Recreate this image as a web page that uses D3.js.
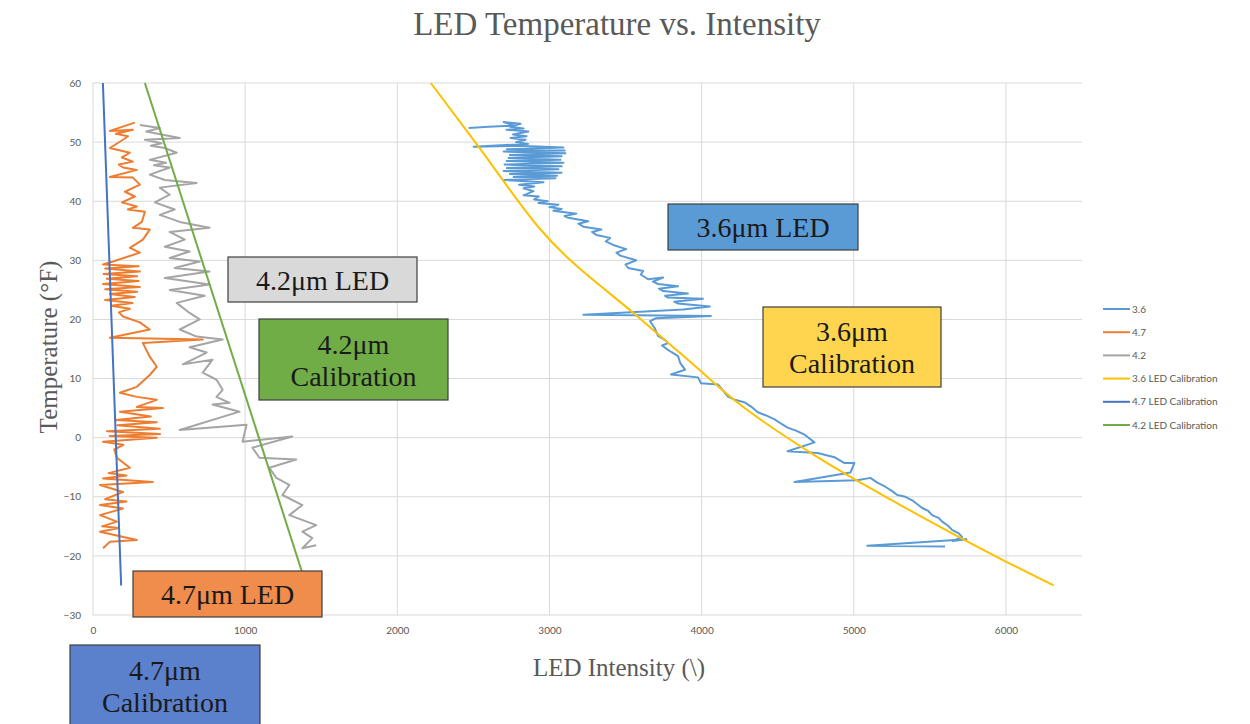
<!DOCTYPE html>
<html><head><meta charset="utf-8">
<script src="https://cdn.jsdelivr.net/npm/d3@7"></script>
<style>
html,body{margin:0;padding:0;background:#fff;}
svg{display:block;}
</style></head>
<body>
<svg id="chart" width="1250" height="724"></svg>
<script>
// ---------- DATA ----------
const xTicks = [0, 1000, 2000, 3000, 4000, 5000, 6000];
const yTicks = [-30, -20, -10, 0, 10, 20, 30, 40, 50, 60];
const seriesNames = ["3.6", "4.7", "4.2", "3.6 LED Calibration", "4.7 LED Calibration", "4.2 LED Calibration"];
const seriesColors = ["#5B9BD5", "#ED7D31", "#A5A5A5", "#FFC000", "#4472C4", "#70AD47"];

// [intensity, temperature]
const series36 = [
 [2469,52.4],[2600,52.6],[2764,52.8],[2699,53.4],[2810,53.1],[2740,52.6],[2830,52.3],[2718,52.1],
 [2862,51.8],[2760,51.3],[2850,51.0],[2744,50.7],[2843,50.4],[2780,50.0],[2860,49.7],
 [2502,49.2],[2797,49.4],[3092,49.1],[2720,48.8],[3100,48.6],[2699,48.4],[3105,48.1],[2740,47.8],
 [3080,47.6],[2731,47.3],[3072,47.0],[2718,46.8],[3092,46.5],[2705,46.2],[3080,45.9],[2720,45.6],
 [3059,45.4],[2699,45.1],[3079,44.8],[2740,44.6],[3050,44.3],[2764,44.1],[3039,43.9],[2699,43.6],
 [2961,43.2],[2800,42.8],[2900,42.5],[2830,42.2],[2895,41.7],[2830,41.0],[2930,40.8],[2900,40.3],
 [2990,40.0],[2928,39.7],[3059,39.4],[3000,39.0],[3080,38.7],[3026,38.4],[3177,37.9],[3100,37.5],
 [3124,37.2],[3255,36.6],[3190,36.2],[3223,35.7],[3341,35.2],[3280,34.8],[3308,34.3],[3399,33.8],
 [3370,33.2],[3419,32.6],[3504,31.9],[3440,31.3],[3465,30.8],[3570,30.0],[3500,29.3],[3517,28.7],
 [3616,28.2],[3600,27.6],[3648,26.8],[3747,27.1],[3680,26.4],[3714,26.0],[3845,25.6],[3720,25.2],
 [3747,24.8],[3910,24.4],[3760,24.0],[3779,23.7],[4009,23.5],[3820,23.0],[3845,22.7],[4054,22.2],
 [3878,21.7],[3223,20.8],[4061,20.6],[3700,20.2],[3661,19.7],[3690,18.6],[3714,17.2],[3760,16.5],
 [3779,16.0],[3740,15.6],[3760,15.2],[3800,14.5],[3845,13.8],[3860,12.6],[3891,11.5],[3799,10.7],
 [3976,10.2],[3996,9.2],[4107,9.0],[4140,8.0],[4172,7.0],[4218,6.4],[4280,6.0],[4323,5.3],
 [4369,4.3],[4420,3.8],[4480,3.1],[4520,2.4],[4565,1.7],[4620,1.2],[4677,0.5],[4742,-0.8],
 [4565,-2.3],[4762,-2.6],[4873,-3.3],[4939,-4.3],[5004,-4.3],[4978,-5.9],[4611,-7.5],[5024,-7.2],
 [5109,-6.8],[5155,-7.6],[5207,-8.3],[5250,-9.0],[5286,-9.7],[5340,-10.0],[5384,-10.6],[5420,-11.3],
 [5450,-11.9],[5490,-12.4],[5515,-13.1],[5560,-13.6],[5581,-14.2],[5620,-14.9],[5646,-15.6],
 [5690,-16.2],[5712,-16.8],[5650,-17.5],[5740,-17.2],[5089,-18.3],[5600,-18.4]
];
const series47 = [
 [275,53.3],[111,51.9],[262,52.1],[150,51.4],[230,51.0],[197,50.4],[111,49.0],[242,48.2],
 [190,47.4],[262,46.7],[170,46.2],[197,45.7],[288,45.3],[111,44.1],[262,44.0],[308,42.8],
 [210,41.6],[275,40.8],[190,39.8],[288,39.1],[229,38.6],[341,38.2],[321,36.5],[262,35.5],
 [373,35.2],[328,33.5],[242,32.1],[308,31.3],[131,29.8],[66,29.3],[300,29.0],[80,28.6],
 [308,28.1],[70,27.7],[290,27.3],[90,26.9],[300,26.5],[66,26.0],[308,25.5],[80,25.1],
 [290,24.7],[111,24.3],[275,23.8],[79,23.3],[260,22.8],[120,22.3],[242,21.8],[170,21.2],
 [197,20.5],[308,19.5],[373,18.3],[111,16.9],[721,16.6],[328,16.0],[373,13.7],[419,12.0],
 [373,10.6],[288,8.6],[177,7.6],[288,6.9],[419,6.4],[288,5.2],[459,5.0],[177,4.4],
 [380,3.6],[150,3.0],[420,2.6],[160,2.1],[439,1.5],[92,1.1],[440,0.6],[110,0.3],[419,0.0],
 [66,-0.7],[200,-1.2],[140,-2.0],[157,-3.4],[242,-5.1],[103,-6.0],[220,-6.4],[66,-6.9],
 [393,-7.5],[46,-8.0],[197,-9.2],[80,-10.4],[220,-10.8],[46,-11.4],[197,-12.0],[46,-13.1],
 [157,-14.2],[60,-15.0],[170,-15.3],[46,-15.9],[288,-17.3],[111,-17.6],[66,-18.7]
];
const series42 = [
 [308,52.9],[439,52.4],[350,51.8],[570,50.7],[341,50.4],[450,49.8],[380,49.4],[472,49.0],
 [550,48.2],[373,47.0],[480,46.5],[400,46.1],[504,45.7],[373,44.5],[472,43.6],[681,43.1],
 [439,42.3],[504,41.1],[406,39.8],[537,38.6],[439,37.7],[570,36.5],[766,35.5],[504,34.8],
 [603,33.5],[472,32.3],[635,31.5],[504,30.4],[701,29.8],[537,28.7],[766,28.1],[472,27.0],
 [766,25.9],[504,25.0],[734,24.0],[550,22.8],[635,21.1],[701,20.0],[570,18.3],[681,17.1],
 [852,16.6],[635,15.3],[747,14.4],[590,12.4],[786,13.2],[721,11.0],[812,9.8],[852,8.1],
 [812,6.9],[897,5.9],[786,5.6],[963,4.4],[570,1.3],[1009,2.2],[983,-0.7],[1310,0.2],
 [1048,-1.7],[1094,-3.4],[1336,-3.7],[1159,-5.1],[1205,-6.8],[1290,-8.0],[1245,-9.7],
 [1376,-11.4],[1290,-13.1],[1467,-14.8],[1376,-15.9],[1441,-17.0],[1376,-18.7],[1467,-18.2]
];
const calib36 = [[2220,60],[2535,49.2],[2928,35.6],[3583,20.4],[3891,13.6],[4238,5.9],[4762,-3.3],[5286,-11.1],[5980,-20.7],[6314,-25]];
const calib47 = [[65,60],[185,-25]];
const calib42 = [[341,60],[1402,-25]];

// annotation labels
const noteTexts = [["3.6\u03bcm LED"], ["4.2\u03bcm LED"], ["4.2\u03bcm", "Calibration"], ["3.6\u03bcm", "Calibration"], ["4.7\u03bcm LED"], ["4.7\u03bcm", "Calibration"]];
const noteFills = ["#5B9BD5", "#D9D9D9", "#70AD47", "#FFD54F", "#F08C4C", "#5B80CC"];

// ---------- DRAW ----------
const svg = d3.select("#chart");
const x = d3.scaleLinear().domain([0, 6500]).range([93, 1082]);
const y = d3.scaleLinear().domain([-30, 60]).range([615, 83]);

const grid = svg.append("g");
grid.selectAll(".hg").data(yTicks).join("line")
  .attr("x1", x(0)).attr("x2", x(6500))
  .attr("y1", d => y(d)).attr("y2", d => y(d))
  .attr("stroke", "#D9D9D9").attr("stroke-width", 1);
grid.selectAll(".vg").data(xTicks).join("line")
  .attr("y1", y(60)).attr("y2", y(-30))
  .attr("x1", d => x(d)).attr("x2", d => x(d))
  .attr("stroke", "#D9D9D9").attr("stroke-width", 1);

const yAxis = svg.append("g").attr("transform", `translate(${x(0)},0)`)
  .call(d3.axisLeft(y).tickValues(yTicks).tickFormat(d3.format("d")).tickSize(0).tickPadding(12));
const xAxis = svg.append("g").attr("transform", `translate(0,${y(-30)})`)
  .call(d3.axisBottom(x).tickValues(xTicks).tickFormat(d3.format("d")).tickSize(0).tickPadding(12));
[xAxis, yAxis].forEach(a => {
  a.select(".domain").remove();
  a.selectAll("text").attr("fill", "#595959").attr("font-family", "Lato, 'Open Sans', sans-serif").attr("font-size", 10);
});

const straight = d3.line().x(d => x(d[0])).y(d => y(d[1]));
const curve = d3.line().x(d => x(d[0])).y(d => y(d[1])).curve(d3.curveMonotoneX);
const allSeries = [series36, series47, series42];
allSeries.forEach((s, i) => {
  svg.append("path").datum(s).attr("d", straight)
    .attr("fill", "none").attr("stroke", seriesColors[i]).attr("stroke-width", 2)
    .attr("stroke-linejoin", "round");
});
svg.append("path").datum(calib36).attr("d", curve).attr("fill", "none").attr("stroke", seriesColors[3]).attr("stroke-width", 2);
svg.append("path").datum(calib47).attr("d", straight).attr("fill", "none").attr("stroke", seriesColors[4]).attr("stroke-width", 2);
svg.append("path").datum(calib42).attr("d", straight).attr("fill", "none").attr("stroke", seriesColors[5]).attr("stroke-width", 2);

// titles
svg.append("text").attr("x", 617).attr("y", 35).attr("text-anchor", "middle")
  .attr("font-family", "'Liberation Serif', serif").attr("font-size", 33).attr("fill", "#595959")
  .text("LED Temperature vs. Intensity");
svg.append("text").attr("x", 619).attr("y", 676).attr("text-anchor", "middle")
  .attr("font-family", "'Liberation Serif', serif").attr("font-size", 25).attr("fill", "#595959")
  .text("LED Intensity (\\)");
svg.append("text").attr("transform", "translate(57,347) rotate(-90)").attr("text-anchor", "middle")
  .attr("font-family", "'Liberation Serif', serif").attr("font-size", 25).attr("fill", "#595959")
  .text("Temperature (\u00b0F)");

// legend
const leg = svg.append("g");
seriesNames.forEach((n, i) => {
  const ly = 309 + i * 23.2;
  leg.append("line").attr("x1", 1103).attr("x2", 1130).attr("y1", ly).attr("y2", ly)
    .attr("stroke", seriesColors[i]).attr("stroke-width", 2);
  leg.append("text").attr("x", 1132).attr("y", ly + 3.5)
    .attr("font-family", "Lato, 'Open Sans', sans-serif").attr("font-size", 10).attr("fill", "#595959").text(n);
});

// annotation boxes
const boxes = [[668, 204, 190, 46], [228, 257, 189, 45], [259, 319, 189, 81], [763, 307, 178, 80], [133, 571, 189, 46], [70, 645, 190, 82]];
boxes.forEach((b, i) => {
  const g = svg.append("g");
  g.append("rect").attr("x", b[0]).attr("y", b[1]).attr("width", b[2]).attr("height", b[3])
    .attr("fill", noteFills[i]).attr("stroke", "#3F3F3F").attr("stroke-width", 1.2);
  const lines = noteTexts[i];
  const cy = b[1] + b[3] / 2;
  lines.forEach((t, k) => {
    g.append("text").attr("x", b[0] + b[2] / 2)
      .attr("y", cy + (k - (lines.length - 1) / 2) * 32 + 10)
      .attr("text-anchor", "middle").attr("font-family", "'Liberation Serif', serif")
      .attr("font-size", 28).attr("fill", "#1a1a1a").text(t);
  });
});
</script>
</body></html>
